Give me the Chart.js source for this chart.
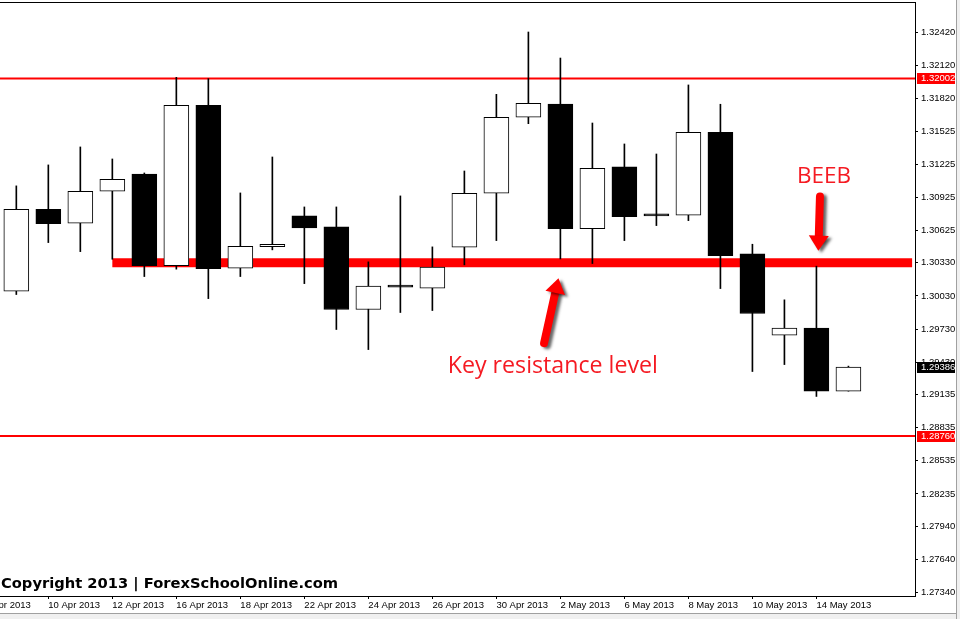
<!DOCTYPE html>
<html>
<head>
<meta charset="utf-8">
<script src="https://cdn.jsdelivr.net/npm/chart.js@4/dist/chart.umd.min.js"></script>
<style>
    html, body { margin: 0; padding: 0; background: #ffffff; overflow: hidden; }
    #wrap { position: relative; width: 960px; height: 619px; }
    #chart { position: absolute; left: 0; top: 0; }
    .edge-right { position: absolute; left: 956px; top: 0; width: 4px; height: 619px; background: #f0f0f0; border-left: 1px solid #a0a0a0; }
    .edge-bottom { position: absolute; left: 0; top: 613px; width: 956px; height: 6px; background: #f0f0f0; border-top: 1px solid #a0a0a0; }
</style>
</head>
<body>
<div id="wrap">
    <canvas id="chart" width="960" height="619"></canvas>
    <div class="edge-right"></div>
    <div class="edge-bottom"></div>
</div>
<script>
// Daily candles, EUR/USD (first date sits just off the left edge)
const dates = [
    '8 Apr 2013', '9 Apr 2013', '10 Apr 2013', '11 Apr 2013', '12 Apr 2013',
    '15 Apr 2013', '16 Apr 2013', '17 Apr 2013', '18 Apr 2013', '19 Apr 2013',
    '22 Apr 2013', '23 Apr 2013', '24 Apr 2013', '25 Apr 2013', '26 Apr 2013',
    '29 Apr 2013', '30 Apr 2013', '1 May 2013', '2 May 2013', '3 May 2013',
    '6 May 2013', '7 May 2013', '8 May 2013', '9 May 2013', '10 May 2013',
    '13 May 2013', '14 May 2013', '15 May 2013'
];
const opens = [null, 1.30073, 1.30816, 1.30690, 1.30979, 1.31136, 1.30305, 1.31759, 1.30282, 1.30478,
    1.30756, 1.30656, 1.29907, 1.30114, 1.30101, 1.30472, 1.30961, 1.31650, 1.31770, 1.30641,
    1.31200, 1.30760, 1.30762, 1.31514, 1.30411, 1.29675, 1.29738, 1.29167];
const highs = [null, 1.31028, 1.31218, 1.31381, 1.31272, 1.31145, 1.32012, 1.32000, 1.30964, 1.31290,
    1.30837, 1.30837, 1.30339, 1.30937, 1.30475, 1.31163, 1.31858, 1.32423, 1.32187, 1.31598,
    1.31408, 1.31317, 1.31943, 1.31768, 1.30499, 1.29995, 1.30300, 1.29394];
const lows = [null, 1.30043, 1.30514, 1.30432, 1.30363, 1.30206, 1.30273, 1.30006, 1.30206, 1.30448,
    1.30142, 1.29726, 1.29544, 1.29880, 1.29898, 1.30312, 1.30532, 1.31592, 1.30366, 1.30324,
    1.30532, 1.30668, 1.30713, 1.30097, 1.29345, 1.29408, 1.29119, 1.29167];
const closes = [null, 1.30816, 1.30686, 1.30979, 1.31088, 1.30305, 1.31759, 1.30278, 1.30481, 1.30499,
    1.30647, 1.29907, 1.30119, 1.30110, 1.30291, 1.30961, 1.31650, 1.31777, 1.30641, 1.31188,
    1.30749, 1.30756, 1.31514, 1.30396, 1.29871, 1.29738, 1.29167, 1.29386];

// Price axis labels as printed by the terminal
const priceTicks = [1.32420, 1.32120, 1.31820, 1.31525, 1.31225, 1.30925, 1.30625, 1.30330, 1.30030,
    1.29730, 1.29430, 1.29135, 1.28835, 1.28535, 1.28235, 1.27940, 1.27640, 1.27340];

// Horizontal levels
const thinLevels = [1.32002, 1.28760];
const keyLevel = 1.30330;
const keyLevelStart = 4;      // drawn from 12 Apr onward
const keyLevelEnd = 28.99;

// Annotations (x in bar index, y in price)
const keyText = { text: 'Key resistance level', x: 14.48, y: 1.29331 };
const beebText = { text: 'BEEB', x: 25.39, y: 1.31052 };
const upArrow = { from: [17.49, 1.29602], to: [17.94, 1.30191] };
const downArrow = { from: [26.11, 1.30931], to: [26.06, 1.30441] };
const copyright = 'Copyright 2013 | ForexSchoolOnline.com';

const xMin = 0.49, xMax = 29.08;
const yMin = 1.27310, yMax = 1.32695;

const wickData = [];
const bodyData = [];
const bodyFill = [];
dates.forEach((d, i) => {
    if (opens[i] === null) return;
    wickData.push({ x: i, y: [lows[i], highs[i]] });
    bodyData.push({ x: i, y: [opens[i], closes[i]] });
    bodyFill.push(closes[i] > opens[i] ? '#ffffff' : '#000000');
});

const levelDatasets = thinLevels.map(level => ({
    type: 'line',
    data: [{ x: xMin, y: level }, { x: xMax, y: level }],
    borderColor: '#ff0000',
    borderWidth: 2,
    pointRadius: 0,
    order: 3
}));

function drawArrow(ctx, x1, y1, x2, y2) {
    const dx = x2 - x1, dy = y2 - y1;
    const len = Math.sqrt(dx * dx + dy * dy);
    const ux = dx / len, uy = dy / len;
    const headLen = 15, headHalf = 10, shaft = 8;
    const bx = x2 - ux * headLen, by = y2 - uy * headLen;
    ctx.save();
    ctx.shadowColor = 'rgba(0,0,0,0.6)';
    ctx.shadowBlur = 3;
    ctx.shadowOffsetX = 3;
    ctx.shadowOffsetY = 2;
    ctx.strokeStyle = '#ff0000';
    ctx.fillStyle = '#ff0000';
    ctx.lineWidth = shaft;
    ctx.lineCap = 'round';
    ctx.beginPath();
    ctx.moveTo(x1, y1);
    ctx.lineTo(bx + ux * 2, by + uy * 2);
    ctx.stroke();
    ctx.beginPath();
    ctx.moveTo(x2, y2);
    ctx.lineTo(bx - uy * headHalf, by + ux * headHalf);
    ctx.lineTo(bx + uy * headHalf, by - ux * headHalf);
    ctx.closePath();
    ctx.fill();
    ctx.restore();
}

const overlayPlugin = {
    id: 'overlay',
    afterDatasetsDraw(chart) {
        const ctx = chart.ctx;
        const xs = chart.scales.x, ys = chart.scales.y;
        const area = chart.chartArea;

        // top frame line
        ctx.save();
        ctx.strokeStyle = '#000000';
        ctx.lineWidth = 1;
        ctx.beginPath();
        ctx.moveTo(area.left, area.top + 0.5);
        ctx.lineTo(area.right + 1, area.top + 0.5);
        ctx.stroke();
        ctx.restore();

        drawArrow(ctx, xs.getPixelForValue(upArrow.from[0]), ys.getPixelForValue(upArrow.from[1]),
            xs.getPixelForValue(upArrow.to[0]), ys.getPixelForValue(upArrow.to[1]));
        drawArrow(ctx, xs.getPixelForValue(downArrow.from[0]), ys.getPixelForValue(downArrow.from[1]),
            xs.getPixelForValue(downArrow.to[0]), ys.getPixelForValue(downArrow.to[1]));

        ctx.save();
        ctx.fillStyle = '#f51a22';
        ctx.textBaseline = 'alphabetic';
        ctx.textAlign = 'left';
        ctx.font = '23.2px "Open Sans"';
        ctx.fillText(keyText.text, xs.getPixelForValue(keyText.x), ys.getPixelForValue(keyText.y));
        ctx.font = '22.5px "Open Sans"';
        ctx.fillText(beebText.text, xs.getPixelForValue(beebText.x), ys.getPixelForValue(beebText.y));

        ctx.fillStyle = '#000000';
        ctx.font = 'bold 14.7px "DejaVu Sans"';
        ctx.fillText(copyright, area.left + 1, area.bottom - 7.7);
        ctx.restore();
    },
    afterDraw(chart) {
        // highlighted price boxes on the right axis
        const ctx = chart.ctx;
        const ys = chart.scales.y;
        const boxes = thinLevels.map(v => ({ value: v, bg: '#ff0000' }));
        boxes.push({ value: closes[closes.length - 1], bg: '#000000' });
        ctx.save();
        ctx.font = '9.5px "Liberation Sans"';
        ctx.textBaseline = 'middle';
        ctx.textAlign = 'left';
        boxes.forEach(b => {
            const y = Math.round(ys.getPixelForValue(b.value));
            ctx.fillStyle = b.bg;
            ctx.fillRect(917, y - 5, 38, 11);
            ctx.fillStyle = '#ffffff';
            ctx.fillText(b.value.toFixed(5), 921, y + 0.5);
        });
        ctx.restore();
    }
};

const ctx = document.getElementById('chart').getContext('2d');
new Chart(ctx, {
    type: 'bar',
    data: {
        datasets: [
            {
                data: bodyData,
                backgroundColor: bodyFill,
                borderColor: '#000000',
                borderWidth: 1,
                borderSkipped: false,
                barThickness: 25,
                minBarLength: 2,
                grouped: false,
                order: 0
            },
            {
                data: wickData,
                backgroundColor: '#000000',
                borderWidth: 0,
                barThickness: 1,
                grouped: false,
                order: 1
            },
            {
                type: 'line',
                data: [{ x: keyLevelStart, y: keyLevel }, { x: keyLevelEnd, y: keyLevel }],
                borderColor: '#ff0000',
                borderWidth: 9,
                borderCapStyle: 'butt',
                pointRadius: 0,
                order: 2
            },
            ...levelDatasets
        ]
    },
    options: {
        responsive: false,
        animation: false,
        layout: { padding: { top: 2, left: 0, right: 0, bottom: 0 } },
        plugins: {
            legend: { display: false },
            tooltip: { enabled: false }
        },
        scales: {
            x: {
                type: 'linear',
                min: xMin,
                max: xMax,
                offset: false,
                afterBuildTicks(scale) {
                    const t = [];
                    for (let i = 0; i < dates.length; i += 2) t.push({ value: i });
                    scale.ticks = t;
                },
                afterFit(scale) {
                    scale.height = 23;
                    scale.paddingLeft = 0;
                    scale.paddingRight = 0;
                },
                ticks: {
                    autoSkip: false,
                    maxRotation: 0,
                    align: 'start',
                    padding: 1,
                    color: '#000000',
                    font: { family: 'Liberation Sans', size: 9.5 },
                    callback: v => dates[Math.round(v)]
                },
                grid: { offset: false, drawOnChartArea: false, tickLength: 3, color: '#000000' },
                border: { display: true, color: '#000000', width: 1 }
            },
            y: {
                type: 'linear',
                position: 'right',
                min: yMin,
                max: yMax,
                afterBuildTicks(scale) {
                    scale.ticks = priceTicks.map(v => ({ value: v }));
                },
                afterFit(scale) {
                    scale.width = 45;
                    scale.paddingTop = 0;
                    scale.paddingBottom = 0;
                },
                ticks: {
                    padding: 3,
                    color: '#000000',
                    font: { family: 'Liberation Sans', size: 9.5 },
                    callback: v => v.toFixed(5)
                },
                grid: { drawOnChartArea: false, tickLength: 3, color: '#000000' },
                border: { display: true, color: '#000000', width: 1 }
            }
        }
    },
    plugins: [overlayPlugin]
});
</script>
</body>
</html>
